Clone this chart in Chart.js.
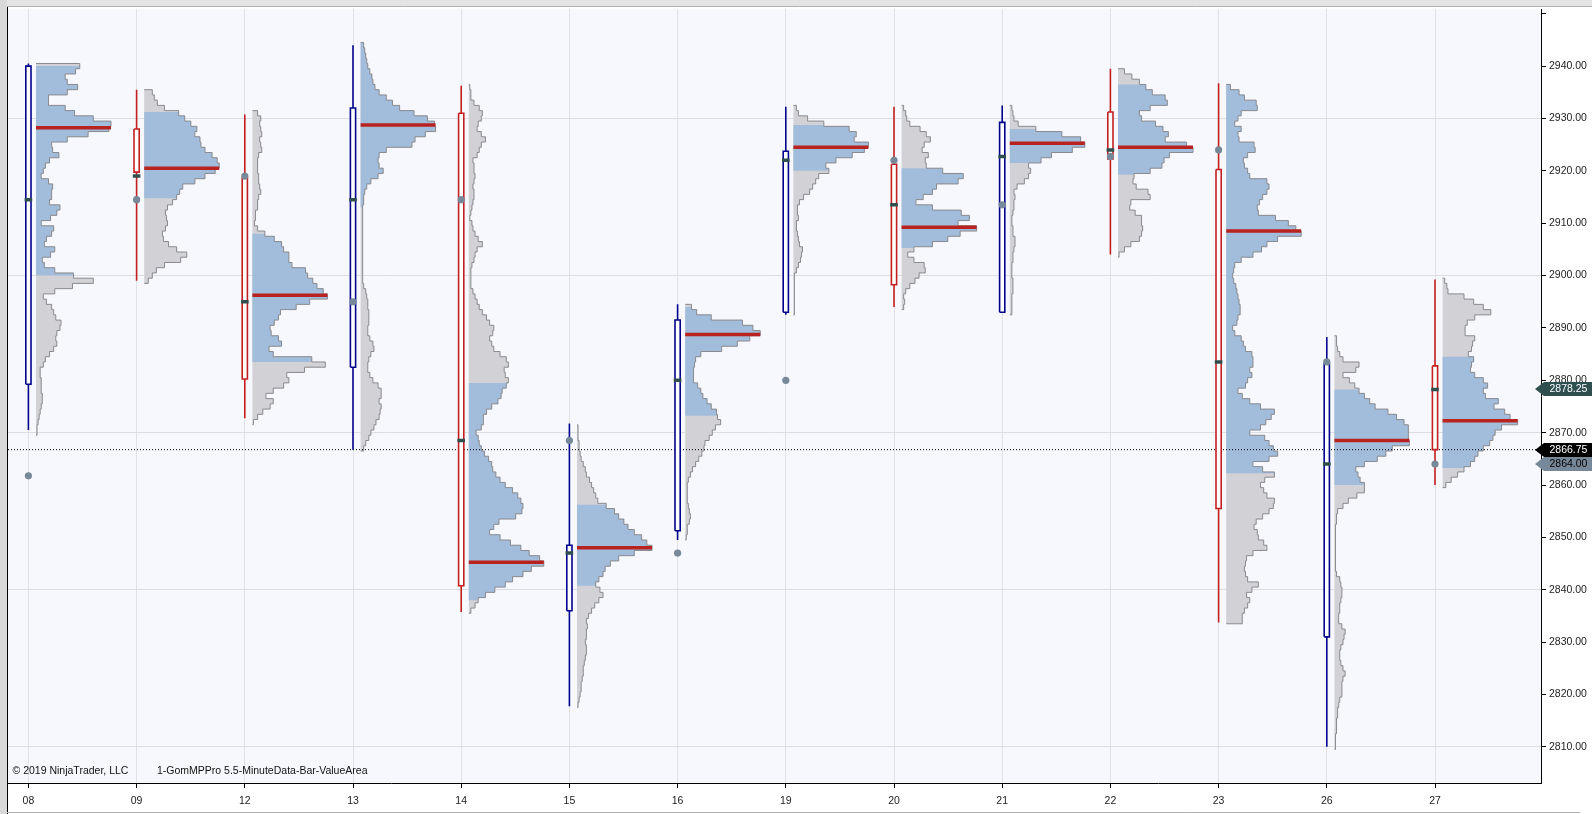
<!DOCTYPE html>
<html>
<head>
<meta charset="utf-8">
<script src="https://cdn.jsdelivr.net/npm/chart.js@4.4.1/dist/chart.umd.min.js"></script>
<style>
  html, body { margin: 0; padding: 0; background: #fff; }
  #wrap { width: 1592px; height: 814px; }
</style>
</head>
<body>
<div id="wrap"><canvas id="chart" width="1592" height="814"></canvas></div>
<script>
// sessions
const days = ['08', '09', '12', '13', '14', '15', '16', '19', '20', '21', '22', '23', '26', '27'];

// candles
const open  = [2879.25, 2928, 2918.75, 2882.5, 2931, 2836, 2851.25, 2893, 2921.25, 2893, 2931.25, 2920.25, 2831, 2882.75];
const high  = [2940.5, 2935.5, 2930.75, 2944, 2936.25, 2871.75, 2894.5, 2932.25, 2932.25, 2932.5, 2939.5, 2936.75, 2888.25, 2899.25];
const low   = [2870.5, 2899, 2872.75, 2866.75, 2835.75, 2817.75, 2849.5, 2892.5, 2894, 2893, 2904, 2833.75, 2810, 2860];
const close = [2940, 2919.75, 2880.25, 2932, 2840.75, 2848.5, 2891.5, 2923.75, 2898.25, 2929.25, 2922.25, 2855.5, 2883.25, 2866.75];

// settlement mark (dash) and previous settlement (dot)
const settle     = [2914.5, 2919, 2895, 2914.5, 2868.5, 2847, 2880, 2922, 2913.5, 2922.75, 2924, 2883.5, 2864, 2878.25];
const prevSettle = [2861.75, 2914.5, 2919, 2895, 2914.5, 2868.5, 2847, 2880, 2922, 2913.5, 2922.75, 2924, 2883.5, 2864];

// value area and point of control
const vaLow  = [2900, 2914.75, 2883.5, 2913, 2838, 2840.75, 2873.25, 2920, 2905.25, 2921.5, 2919.25, 2862.25, 2860, 2863.25];
const vaHigh = [2940, 2931.25, 2908, 2944.5, 2879.5, 2856.25, 2894, 2928.75, 2920.5, 2928, 2936.5, 2936.75, 2878.25, 2884.5];
const poc    = [2928.25, 2920.5, 2896.25, 2928.75, 2845.25, 2848, 2888.75, 2924.5, 2909.25, 2925.25, 2924.5, 2908.5, 2868.5, 2872.25];

// volume profiles, one value per point, starting at profileStart
const profileStart = [2870, 2899, 2872, 2867, 2836, 2818, 2850, 2893, 2894, 2893, 2904, 2834, 2810, 2860];
const vp08 = [1,1,2,3,4,5,6,6,5,5, 5,4,4,7,9,13,17,20,19,20, 23,24,19,17,15,10,7,18,35,55, 36,18,8,6,14,18,8,10,15,17, 5,14,20,23,13,15,15,16,12,5, 7,9,13,22,16,15,30,50,70,72, 55,37,28,12,12,30,40,30,28,38, 42];
const vp09 = [4,8,12,20,36,42,32,24,19,18, 21,23,22,21,23,28,32,35,38,50, 60,70,74,72,67,60,56,55,50,52, 46,40,34,20,13,10,8];
const vp12 = [1,5,10,17,20,13,20,30,35,33, 50,70,57,20,16,28,25,18,17,21, 25,27,42,55,72,68,62,58,53,51, 38,35,35,30,28,21,12,5,2,3, 3,5,5,6,8,7,6,6,5,5, 5,6,9,8,7,9,8,7,8,5];
const vp13 = [3,5,8,10,13,15,18,19,20,18, 20,20,17,12,9,7,7,8,10,13, 12,9,7,7,8,8,8,7,7,6, 5,3,2,2,2,2,2,2,2,2, 2,2,2,2,2,2,2,3,3,4, 6,10,17,22,18,17,18,25,50,53, 63,73,72,65,52,38,31,25,18,14, 12,11,9,7,6,5,4,3];
const vp14 = [2,6,9,16,25,35,42,52,60,72, 68,58,50,40,30,20,24,29,45,51, 52,50,47,42,35,30,26,23,22,19, 15,12,10,9,7,12,14,14,17,22, 28,31,32,36,38,35,34,38,36,30, 24,22,20,23,24,20,17,13,10,8, 6,4,2,2,2,2,3,5,6,8, 13,9,6,4,3,1,2,3,4,5, 5,4,5,6,5,5,4,8,10,12, 16,12,8,9,12,13,10,5,2,2, 1];
const vp15 = [1,2,3,4,4,5,6,6,7,8, 9,9,8,9,9,10,9,11,14,17, 21,25,22,18,21,25,27,32,40,55, 72,67,62,55,49,45,40,36,28,20, 18,16,14,12,9,8,6,4,3,2, 2,1,1,1];
const vp16 = [1,2,2,4,5,4,3,2,2,2, 2,3,5,7,10,13,16,18,19,23, 26,29,34,31,30,25,21,17,15,12, 8,8,8,9,10,15,35,50,62,72, 65,55,25,11,6];
const vp19 = [1,1,1,1,1,1,1,1,3,5, 7,8,9,6,5,4,3,3,5,4, 4,6,10,16,19,22,25,35,32,42, 58,70,74,60,62,55,30,14,5,3];
const vp20 = [2,3,2,4,8,13,17,23,22,12, 6,12,30,45,57,73,55,66,58,30, 14,21,30,34,55,60,40,24,23,26, 20,22,28,24,18,8,5,4,2];
const vp21 = [2,2,2,2,3,3,3,2,2,2, 3,3,4,5,5,3,3,2,2,3, 4,4,5,4,7,14,18,20,18,30, 40,60,72,68,50,25,8,4,3,2];
const vp22 = [1,6,12,20,22,23,22,22,16,11, 12,30,28,17,14,15,30,41,43,48, 70,64,44,47,42,35,22,20,30,46, 44,32,26,20,13,6];
const vp23 = [15,15,17,20,22,19,24,30,20,18, 17,18,19,25,38,35,30,29,26,28, 34,40,44,45,38,35,32,36,45,34, 25,40,48,44,40,36,22,32,37,42, 45,32,22,15,11,18,20,24,22,25, 25,24,18,16,14,8,6,10,11,13, 13,12,11,10,9,7,6,7,8,14, 25,33,38,48,70,65,58,46,30,29, 31,34,38,40,38,22,20,17,16,20, 27,26,12,11,14,8,11,14,29,28, 17,12,4];
const vp26 = [1,1,1,2,2,2,3,3,4,5, 7,7,7,8,10,8,6,5,5,6, 8,9,10,7,4,4,5,5,6,7, 7,6,5,2,1,1,1,1,1,1, 1,1,1,2,2,3,8,13,21,28, 28,24,22,20,28,40,48,54,70,69, 69,69,65,58,50,38,33,28,23,19, 14,8,20,23,8,5,3,2,2];
const vp27 = [3,8,14,20,26,30,33,38,44,47, 49,55,70,63,58,48,52,40,38,42, 38,30,26,27,29,24,27,28,30,21, 21,23,30,45,38,29,20,5,4,2];
const profiles = [vp08, vp09, vp12, vp13, vp14, vp15, vp16, vp19, vp20, vp21, vp22, vp23, vp26, vp27];

const yTicks = [2810, 2820, 2830, 2840, 2850, 2860, 2870, 2880, 2890, 2900, 2910, 2920, 2930, 2940, 2950];
const gridLevels = [2810, 2840, 2870, 2900, 2930];
const lastPrice = close[close.length - 1];

// layout (pixels -> day units)
const dayPx = 108.2;
const px = v => v / dayPx;
const xMin = -px(20.4);
const xMax = xMin + px(1533);
const profileGap = px(7.6);
const profileWidth = px(75);
const bodyHalf = px(2.6);
const dashHalf = px(3.8);

const FONT = "'Liberation Sans', Arial, sans-serif";
const NAVY = '#00008b', RED = '#c41f1f';

const base = { pointRadius: 0, pointHoverRadius: 0, pointHitRadius: 0, tension: 0, fill: false, borderJoinStyle: 'miter' };
const datasets = [];

profiles.forEach((vp, i) => {
  const x0 = i + profileGap;
  const lo = profileStart[i];
  const vmax = Math.max(...vp);
  const wx = v => x0 + v / vmax * profileWidth;

  const full = [{ x: x0, y: lo - 0.5 }];
  vp.forEach((v, k) => {
    full.push({ x: wx(v), y: lo + k - 0.5 }, { x: wx(v), y: lo + k + 0.5 });
  });
  full.push({ x: x0, y: lo + vp.length - 0.5 });

  const va = [];
  vp.forEach((v, k) => {
    const b = Math.max(lo + k - 0.5, vaLow[i]);
    const t = Math.min(lo + k + 0.5, vaHigh[i]);
    if (t > b) va.push({ x: wx(v), y: b }, { x: wx(v), y: t });
  });
  va.unshift({ x: x0, y: va[0].y });
  va.push({ x: x0, y: va[va.length - 1].y });

  const col = close[i] >= open[i] ? NAVY : RED;

  datasets.push(
    { ...base, data: full, fill: 'shape', backgroundColor: '#d1d1d6', borderColor: 'rgba(0,0,0,0)', borderWidth: 1, order: 8 },
    { ...base, data: va, fill: 'shape', backgroundColor: '#a2bddb', borderColor: 'rgba(0,0,0,0)', borderWidth: 1, order: 7 },
    { ...base, data: full, borderColor: '#8a8a8e', borderWidth: 1, order: 6 },
    { ...base, data: [{ x: x0, y: poc[i] }, { x: x0 + profileWidth, y: poc[i] }], borderColor: '#b8221f', borderWidth: 3.5, borderCapStyle: 'butt', order: 4 },
    { ...base, data: [{ x: i, y: low[i] }, { x: i, y: high[i] }], borderColor: col, borderWidth: 1.6, order: 3 },
    { ...base, data: [
        { x: i - bodyHalf, y: open[i] }, { x: i + bodyHalf, y: open[i] },
        { x: i + bodyHalf, y: close[i] }, { x: i - bodyHalf, y: close[i] }, { x: i - bodyHalf, y: open[i] }
      ], fill: 'shape', backgroundColor: '#ffffff', borderColor: col, borderWidth: 1.6, order: 2 },
    { ...base, data: [{ x: i - dashHalf, y: settle[i] }, { x: i + dashHalf, y: settle[i] }], borderColor: '#2f4f4f', borderWidth: 3.5, borderCapStyle: 'butt', order: 1 }
  );
});

// last price dotted line
datasets.push({ ...base, data: [{ x: xMin, y: lastPrice }, { x: xMax, y: lastPrice }], borderColor: '#000', borderWidth: 1, borderDash: [1, 2], order: 5 });

// previous settlement dots
datasets.push({
  ...base, showLine: false, data: prevSettle.map((v, i) => ({ x: i, y: v })),
  pointRadius: 3.6, pointBackgroundColor: '#778899', pointBorderWidth: 0, order: 0
});

const frame = {
  id: 'frame',
  beforeDraw(chart) {
    const { ctx, chartArea: a, width, height } = chart;
    ctx.save();
    ctx.fillStyle = '#ffffff';
    ctx.fillRect(0, 0, width, height);
    ctx.fillStyle = '#e4e4e4';
    ctx.fillRect(0, 0, width, 6);
    ctx.fillStyle = '#d9d9d9';
    ctx.fillRect(0, 0, 7, height);
    ctx.fillStyle = '#f7f8fd';
    ctx.fillRect(a.left, a.top, a.right - a.left, a.bottom - a.top);
    ctx.lineWidth = 1;
    ctx.strokeStyle = '#000';
    ctx.beginPath();
    ctx.moveTo(7.5, 6); ctx.lineTo(7.5, height);
    ctx.stroke();
    ctx.strokeStyle = '#b0b0b0';
    ctx.beginPath();
    ctx.moveTo(7, 6.5); ctx.lineTo(width, 6.5);
    ctx.moveTo(7, height - 1.5); ctx.lineTo(width - 12, height - 1.5);
    ctx.stroke();
    ctx.restore();
  },
  afterDraw(chart) {
    const { ctx, chartArea: a } = chart;
    const ys = chart.scales.y;
    ctx.save();
    ctx.font = '10.5px ' + FONT;
    ctx.fillStyle = '#111';
    ctx.textBaseline = 'middle';
    ctx.textAlign = 'left';
    ctx.fillText('\u00a9 2019 NinjaTrader, LLC', 12.5, a.bottom - 12);
    ctx.fillText('1-GomMPPro 5.5-MinuteData-Bar-ValueArea', 157, a.bottom - 12);

    const tags = [
      { v: settle[settle.length - 1], bg: '#2f4f4f', fg: '#ffffff' },
      { v: lastPrice, bg: '#000000', fg: '#ffffff' },
      { v: prevSettle[prevSettle.length - 1], bg: '#778899', fg: '#000000' }
    ];
    tags.forEach(t => {
      const y = Math.round(ys.getPixelForValue(t.v));
      const x = a.right - 6;
      ctx.fillStyle = t.bg;
      ctx.beginPath();
      ctx.moveTo(x, y);
      ctx.lineTo(x + 9, y - 7);
      ctx.lineTo(1592, y - 7);
      ctx.lineTo(1592, y + 7);
      ctx.lineTo(x + 9, y + 7);
      ctx.closePath();
      ctx.fill();
      ctx.fillStyle = t.fg;
      ctx.fillText(t.v.toFixed(2), a.right + 8.5, y + 0.5);
    });
    ctx.restore();
  }
};

new Chart(document.getElementById('chart'), {
  type: 'line',
  data: { datasets },
  options: {
    responsive: false,
    animation: false,
    devicePixelRatio: 1,
    events: [],
    layout: { padding: { left: 8, top: 7, right: 0, bottom: 0 } },
    plugins: { legend: { display: false }, tooltip: { enabled: false } },
    scales: {
      x: {
        type: 'linear', min: xMin, max: xMax,
        afterBuildTicks: s => { s.ticks = days.map((d, i) => ({ value: i })); },
        afterFit: s => { s.height = 31; },
        grid: { color: '#e1e2e8', tickColor: '#000', tickLength: 5 },
        border: { color: '#000' },
        ticks: { callback: v => days[v], color: '#222', font: { family: FONT, size: 10.5 }, padding: 7, autoSkip: false, maxRotation: 0 }
      },
      y: {
        type: 'linear', position: 'right', min: 2803.09, max: 2950.85,
        afterBuildTicks: s => { s.ticks = yTicks.map(v => ({ value: v })); },
        afterFit: s => { s.width = 51; },
        grid: {
          color: c => (c.tick && gridLevels.includes(c.tick.value)) ? '#dcdde3' : 'rgba(0,0,0,0)',
          tickColor: '#000', tickLength: 5
        },
        border: { color: '#000' },
        ticks: { callback: v => v > 2945 ? '' : v.toFixed(2), color: '#222', font: { family: FONT, size: 10.5 }, padding: 3 }
      }
    }
  },
  plugins: [frame]
});
</script>
</body>
</html>
